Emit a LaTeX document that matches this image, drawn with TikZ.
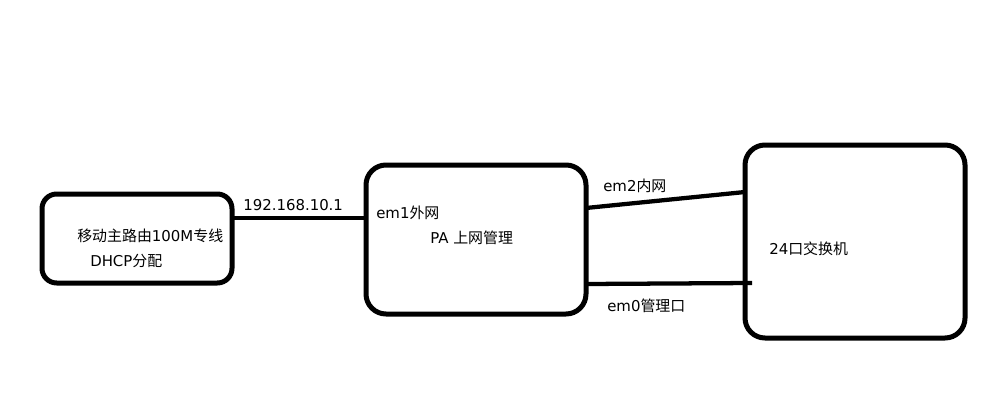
\documentclass[tikz,border=0pt]{standalone}
\usepackage{fontspec}
\setmainfont{Noto Sans CJK SC}
\newfontfamily\lat{DejaVu Sans}
\usetikzlibrary{calc}

\begin{document}
\begin{tikzpicture}[x=0.75pt,y=-0.75pt,font=\fontsize{11.2pt}{13pt}\selectfont,
  box/.style={draw,line width=3.75pt,rounded corners=#1,inner sep=0pt,outer sep=0pt},
  link/.style={line width=3.2pt},
  lbl/.style={anchor=west,inner sep=0pt}]
\useasboundingbox (0,0) rectangle (1002,410);
% boxes
\node[box=11pt,minimum width=142.5pt,minimum height=66.75pt] (router) at (137,238.5) {};
\node[box=15pt,minimum width=165pt,minimum height=111.75pt] (pa) at (476,239.5) {};
\node[box=15pt,minimum width=165pt,minimum height=144.75pt] (switch) at (855,241.5) {};
% links
\draw[link] (router.east |- 0,218) -- (pa.west |- 0,218);
\draw[link] (pa.east |- 0,208) -- (switch.west |- 0,192);
\draw[link] (pa.east |- 0,284) -- ($(switch.west |- 0,283)+(7,0)$);
% texts
\foreach \x/\y/\n/\t in {77/236/t1/{移动主路由{\lat 100M}专线},90/261/t2/{{\lat DHCP}分配},
  243/205/ip/{\lat 192.168.10.1},376/213/em1/{{\lat em1}外网},430/238/t3/{{\lat PA }上网管理},
  603/186/em2/{{\lat em2}内网},607/306/em0/{{\lat em0}管理口},769/249/t4/{{\lat 24}口交换机}}{
  \node[lbl] (\n) at (\x,\y) {\t};}
\end{tikzpicture}
\end{document}
